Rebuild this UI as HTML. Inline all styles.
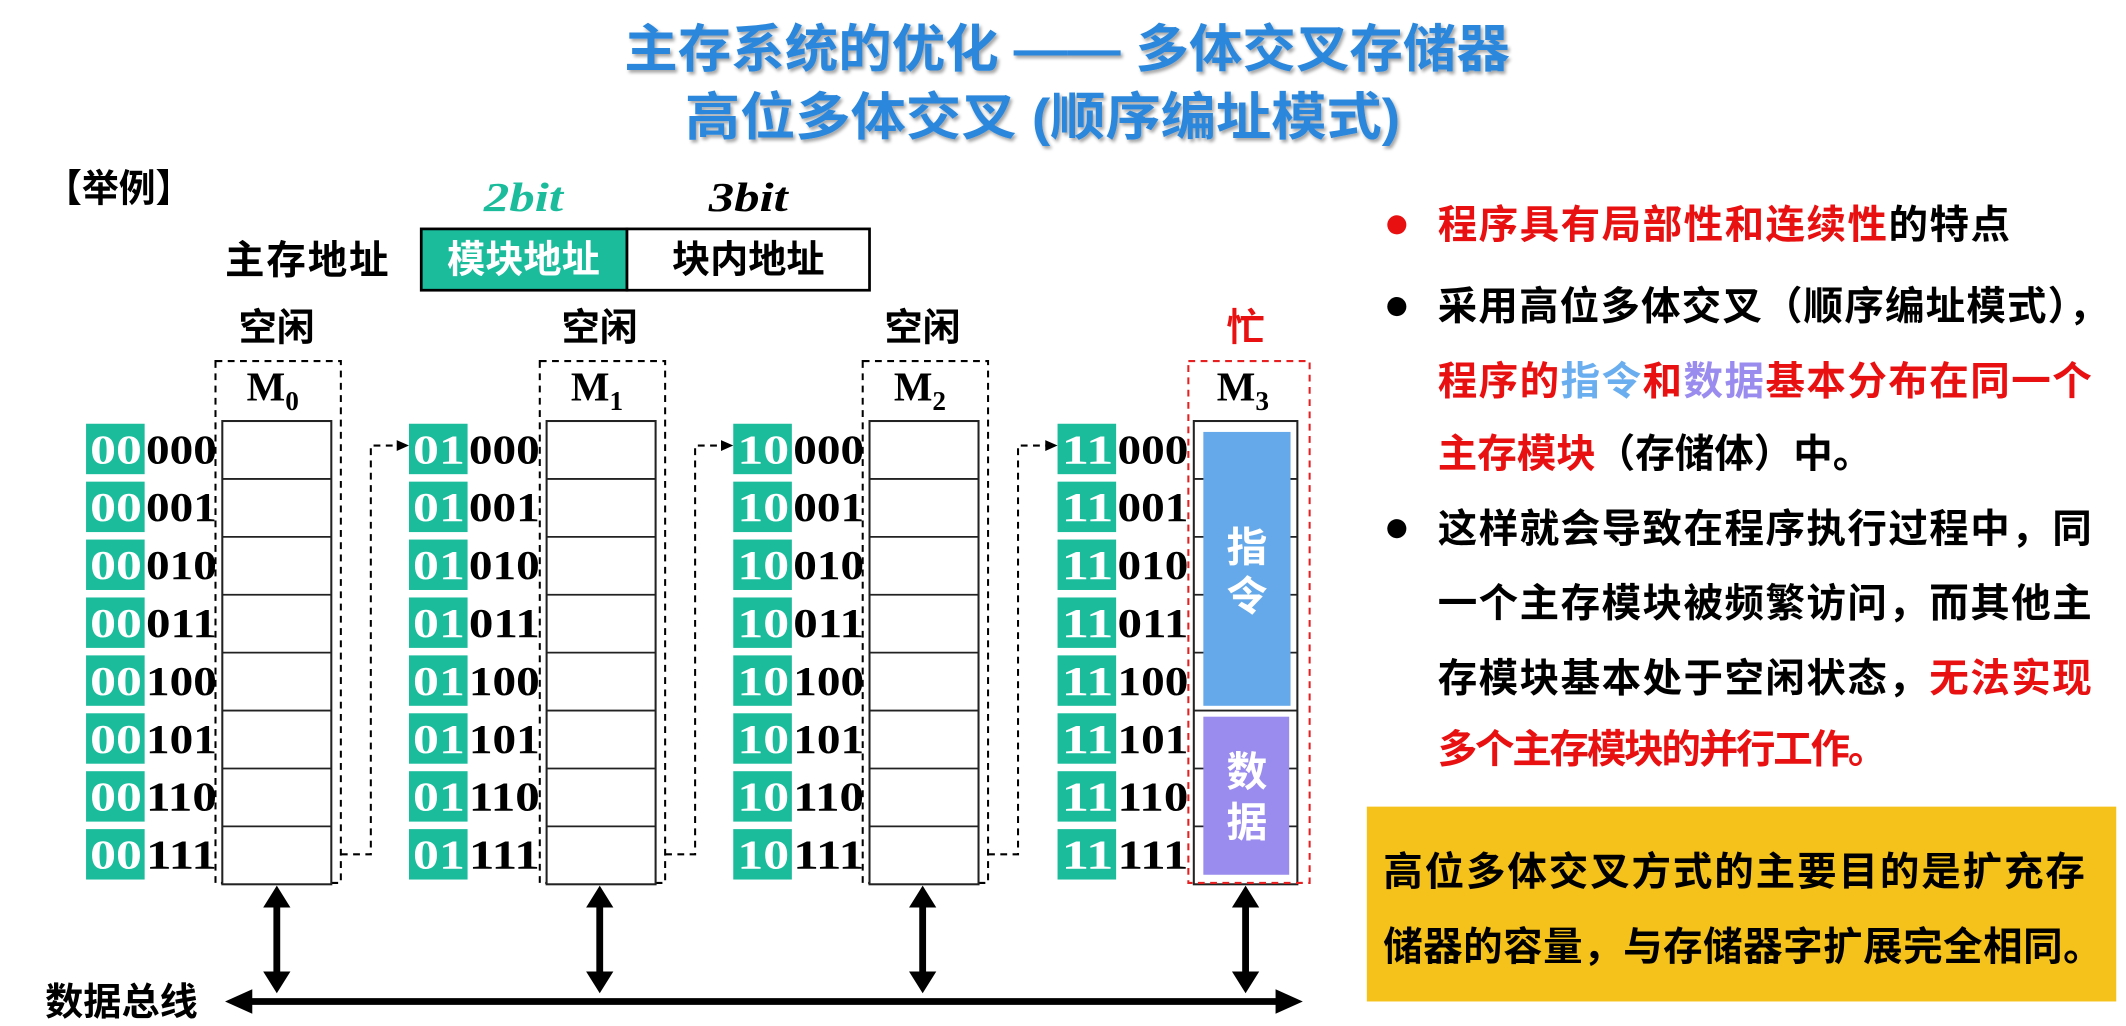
<!DOCTYPE html>
<html><head><meta charset="utf-8">
<style>
html,body{margin:0;padding:0;background:#fff;}
svg{display:block;}
text{font-family:"Liberation Sans","Noto Sans CJK SC",sans-serif;font-weight:bold;}
.serif{font-family:"Liberation Serif","Noto Serif CJK SC",serif;}
</style></head>
<body>
<svg width="2126" height="1026" viewBox="0 0 1560 753" xmlns="http://www.w3.org/2000/svg">
<defs>
<filter id="sh" x="-5%" y="-20%" width="110%" height="140%"><feDropShadow dx="1.5" dy="2" stdDeviation="1.2" flood-color="#000" flood-opacity="0.35"/></filter>
</defs>
<text x="783" y="49" text-anchor="middle" font-size="38" fill="#2b87dc" filter="url(#sh)" textLength="650" lengthAdjust="spacingAndGlyphs">主存系统的优化 —— 多体交叉存储器</text>
<text x="765" y="99" text-anchor="middle" font-size="38" fill="#2b87dc" filter="url(#sh)" textLength="525" lengthAdjust="spacingAndGlyphs">高位多体交叉 (顺序编址模式)</text>

<text x="33" y="148" font-size="28" fill="#000" textLength="108" lengthAdjust="spacingAndGlyphs">【举例】</text>
<text class="serif" x="355" y="155" font-size="30" font-style="italic" fill="#1abc9c" textLength="58" lengthAdjust="spacingAndGlyphs">2bit</text>
<text class="serif" x="520" y="155" font-size="30" font-style="italic" fill="#000" textLength="58" lengthAdjust="spacingAndGlyphs">3bit</text>
<text x="165" y="201" font-size="29" fill="#000" textLength="120">主存地址</text>
<rect x="309" y="168" width="151" height="45" fill="#1abc9c" stroke="#000" stroke-width="2"/>
<rect x="460" y="168" width="178" height="45" fill="#fff" stroke="#000" stroke-width="2"/>
<text x="384" y="200" text-anchor="middle" font-size="28" fill="#fff">模块地址</text>
<text x="549" y="200" text-anchor="middle" font-size="28" fill="#000">块内地址</text>

<text x="203" y="250" text-anchor="middle" font-size="28" fill="#000">空闲</text>
<text x="440" y="250" text-anchor="middle" font-size="28" fill="#000">空闲</text>
<text x="677" y="250" text-anchor="middle" font-size="28" fill="#000">空闲</text>
<text x="914" y="250" text-anchor="middle" font-size="28" fill="#e81010">忙</text>

<rect x="158" y="265" width="92" height="383" fill="none" stroke="#000" stroke-width="1.5" stroke-dasharray="5,4"/>
<rect x="396" y="265" width="92" height="383" fill="none" stroke="#000" stroke-width="1.5" stroke-dasharray="5,4"/>
<rect x="633" y="265" width="92" height="383" fill="none" stroke="#000" stroke-width="1.5" stroke-dasharray="5,4"/>
<text class="serif" x="200" y="294" text-anchor="middle" font-size="30" fill="#000">M<tspan font-size="20" dy="7">0</tspan></text>
<text class="serif" x="438" y="294" text-anchor="middle" font-size="30" fill="#000">M<tspan font-size="20" dy="7">1</tspan></text>
<text class="serif" x="675" y="294" text-anchor="middle" font-size="30" fill="#000">M<tspan font-size="20" dy="7">2</tspan></text>
<text class="serif" x="912" y="294" text-anchor="middle" font-size="30" fill="#000">M<tspan font-size="20" dy="7">3</tspan></text>

<g fill="#fff" stroke="#222" stroke-width="1.5">
<rect x="163" y="309" width="80" height="340"/>
<rect x="401" y="309" width="80" height="340"/>
<rect x="638" y="309" width="80" height="340"/>
<rect x="876" y="309" width="76" height="340"/>
</g>
<g stroke="#222" stroke-width="1.3">
<path d="M163 351.5H243M163 394H243M163 436.5H243M163 479H243M163 521.5H243M163 564H243M163 606.5H243"/>
<path d="M401 351.5H481M401 394H481M401 436.5H481M401 479H481M401 521.5H481M401 564H481M401 606.5H481"/>
<path d="M638 351.5H718M638 394H718M638 436.5H718M638 479H718M638 521.5H718M638 564H718M638 606.5H718"/>
<path d="M876 351.5H952M876 394H952M876 436.5H952M876 479H952M876 521.5H952M876 564H952M876 606.5H952"/>
</g>
<rect x="883" y="317" width="64" height="201" fill="#66a9ea"/>
<rect x="883" y="526" width="63" height="116" fill="#9a8cee"/>
<text x="915" y="412" text-anchor="middle" font-size="30" fill="#fff">指</text>
<text x="915" y="448" text-anchor="middle" font-size="30" fill="#fff">令</text>
<text x="915" y="577" text-anchor="middle" font-size="30" fill="#fff">数</text>
<text x="915" y="614" text-anchor="middle" font-size="30" fill="#fff">据</text>
<rect x="872" y="265" width="89" height="383" fill="none" stroke="#e62020" stroke-width="1.5" stroke-dasharray="5,4"/>

<g fill="#1abc9c">
<rect x="63" y="311" width="43" height="37"/><rect x="63" y="353.5" width="43" height="37"/><rect x="63" y="396" width="43" height="37"/><rect x="63" y="438.5" width="43" height="37"/><rect x="63" y="481" width="43" height="37"/><rect x="63" y="523.5" width="43" height="37"/><rect x="63" y="566" width="43" height="37"/><rect x="63" y="608.5" width="43" height="37"/>
<rect x="300" y="311" width="43" height="37"/><rect x="300" y="353.5" width="43" height="37"/><rect x="300" y="396" width="43" height="37"/><rect x="300" y="438.5" width="43" height="37"/><rect x="300" y="481" width="43" height="37"/><rect x="300" y="523.5" width="43" height="37"/><rect x="300" y="566" width="43" height="37"/><rect x="300" y="608.5" width="43" height="37"/>
<rect x="538" y="311" width="43" height="37"/><rect x="538" y="353.5" width="43" height="37"/><rect x="538" y="396" width="43" height="37"/><rect x="538" y="438.5" width="43" height="37"/><rect x="538" y="481" width="43" height="37"/><rect x="538" y="523.5" width="43" height="37"/><rect x="538" y="566" width="43" height="37"/><rect x="538" y="608.5" width="43" height="37"/>
<rect x="776" y="311" width="43" height="37"/><rect x="776" y="353.5" width="43" height="37"/><rect x="776" y="396" width="43" height="37"/><rect x="776" y="438.5" width="43" height="37"/><rect x="776" y="481" width="43" height="37"/><rect x="776" y="523.5" width="43" height="37"/><rect x="776" y="566" width="43" height="37"/><rect x="776" y="608.5" width="43" height="37"/>
</g>
<g font-size="30">
<g fill="#fff">
<text class="serif" x="66" y="340" textLength="38" lengthAdjust="spacingAndGlyphs">00</text><text class="serif" x="66" y="382.5" textLength="38" lengthAdjust="spacingAndGlyphs">00</text><text class="serif" x="66" y="425" textLength="38" lengthAdjust="spacingAndGlyphs">00</text><text class="serif" x="66" y="467.5" textLength="38" lengthAdjust="spacingAndGlyphs">00</text><text class="serif" x="66" y="510" textLength="38" lengthAdjust="spacingAndGlyphs">00</text><text class="serif" x="66" y="552.5" textLength="38" lengthAdjust="spacingAndGlyphs">00</text><text class="serif" x="66" y="595" textLength="38" lengthAdjust="spacingAndGlyphs">00</text><text class="serif" x="66" y="637.5" textLength="38" lengthAdjust="spacingAndGlyphs">00</text>
<text class="serif" x="303" y="340" textLength="38" lengthAdjust="spacingAndGlyphs">01</text><text class="serif" x="303" y="382.5" textLength="38" lengthAdjust="spacingAndGlyphs">01</text><text class="serif" x="303" y="425" textLength="38" lengthAdjust="spacingAndGlyphs">01</text><text class="serif" x="303" y="467.5" textLength="38" lengthAdjust="spacingAndGlyphs">01</text><text class="serif" x="303" y="510" textLength="38" lengthAdjust="spacingAndGlyphs">01</text><text class="serif" x="303" y="552.5" textLength="38" lengthAdjust="spacingAndGlyphs">01</text><text class="serif" x="303" y="595" textLength="38" lengthAdjust="spacingAndGlyphs">01</text><text class="serif" x="303" y="637.5" textLength="38" lengthAdjust="spacingAndGlyphs">01</text>
<text class="serif" x="541" y="340" textLength="38" lengthAdjust="spacingAndGlyphs">10</text><text class="serif" x="541" y="382.5" textLength="38" lengthAdjust="spacingAndGlyphs">10</text><text class="serif" x="541" y="425" textLength="38" lengthAdjust="spacingAndGlyphs">10</text><text class="serif" x="541" y="467.5" textLength="38" lengthAdjust="spacingAndGlyphs">10</text><text class="serif" x="541" y="510" textLength="38" lengthAdjust="spacingAndGlyphs">10</text><text class="serif" x="541" y="552.5" textLength="38" lengthAdjust="spacingAndGlyphs">10</text><text class="serif" x="541" y="595" textLength="38" lengthAdjust="spacingAndGlyphs">10</text><text class="serif" x="541" y="637.5" textLength="38" lengthAdjust="spacingAndGlyphs">10</text>
<text class="serif" x="779" y="340" textLength="38" lengthAdjust="spacingAndGlyphs">11</text><text class="serif" x="779" y="382.5" textLength="38" lengthAdjust="spacingAndGlyphs">11</text><text class="serif" x="779" y="425" textLength="38" lengthAdjust="spacingAndGlyphs">11</text><text class="serif" x="779" y="467.5" textLength="38" lengthAdjust="spacingAndGlyphs">11</text><text class="serif" x="779" y="510" textLength="38" lengthAdjust="spacingAndGlyphs">11</text><text class="serif" x="779" y="552.5" textLength="38" lengthAdjust="spacingAndGlyphs">11</text><text class="serif" x="779" y="595" textLength="38" lengthAdjust="spacingAndGlyphs">11</text><text class="serif" x="779" y="637.5" textLength="38" lengthAdjust="spacingAndGlyphs">11</text>
</g>
<g fill="#000">
<text class="serif" x="107" y="340" textLength="52" lengthAdjust="spacingAndGlyphs">000</text><text class="serif" x="107" y="382.5" textLength="52" lengthAdjust="spacingAndGlyphs">001</text><text class="serif" x="107" y="425" textLength="52" lengthAdjust="spacingAndGlyphs">010</text><text class="serif" x="107" y="467.5" textLength="52" lengthAdjust="spacingAndGlyphs">011</text><text class="serif" x="107" y="510" textLength="52" lengthAdjust="spacingAndGlyphs">100</text><text class="serif" x="107" y="552.5" textLength="52" lengthAdjust="spacingAndGlyphs">101</text><text class="serif" x="107" y="595" textLength="52" lengthAdjust="spacingAndGlyphs">110</text><text class="serif" x="107" y="637.5" textLength="52" lengthAdjust="spacingAndGlyphs">111</text>
<text class="serif" x="344" y="340" textLength="52" lengthAdjust="spacingAndGlyphs">000</text><text class="serif" x="344" y="382.5" textLength="52" lengthAdjust="spacingAndGlyphs">001</text><text class="serif" x="344" y="425" textLength="52" lengthAdjust="spacingAndGlyphs">010</text><text class="serif" x="344" y="467.5" textLength="52" lengthAdjust="spacingAndGlyphs">011</text><text class="serif" x="344" y="510" textLength="52" lengthAdjust="spacingAndGlyphs">100</text><text class="serif" x="344" y="552.5" textLength="52" lengthAdjust="spacingAndGlyphs">101</text><text class="serif" x="344" y="595" textLength="52" lengthAdjust="spacingAndGlyphs">110</text><text class="serif" x="344" y="637.5" textLength="52" lengthAdjust="spacingAndGlyphs">111</text>
<text class="serif" x="582" y="340" textLength="52" lengthAdjust="spacingAndGlyphs">000</text><text class="serif" x="582" y="382.5" textLength="52" lengthAdjust="spacingAndGlyphs">001</text><text class="serif" x="582" y="425" textLength="52" lengthAdjust="spacingAndGlyphs">010</text><text class="serif" x="582" y="467.5" textLength="52" lengthAdjust="spacingAndGlyphs">011</text><text class="serif" x="582" y="510" textLength="52" lengthAdjust="spacingAndGlyphs">100</text><text class="serif" x="582" y="552.5" textLength="52" lengthAdjust="spacingAndGlyphs">101</text><text class="serif" x="582" y="595" textLength="52" lengthAdjust="spacingAndGlyphs">110</text><text class="serif" x="582" y="637.5" textLength="52" lengthAdjust="spacingAndGlyphs">111</text>
<text class="serif" x="820" y="340" textLength="52" lengthAdjust="spacingAndGlyphs">000</text><text class="serif" x="820" y="382.5" textLength="52" lengthAdjust="spacingAndGlyphs">001</text><text class="serif" x="820" y="425" textLength="52" lengthAdjust="spacingAndGlyphs">010</text><text class="serif" x="820" y="467.5" textLength="52" lengthAdjust="spacingAndGlyphs">011</text><text class="serif" x="820" y="510" textLength="52" lengthAdjust="spacingAndGlyphs">100</text><text class="serif" x="820" y="552.5" textLength="52" lengthAdjust="spacingAndGlyphs">101</text><text class="serif" x="820" y="595" textLength="52" lengthAdjust="spacingAndGlyphs">110</text><text class="serif" x="820" y="637.5" textLength="52" lengthAdjust="spacingAndGlyphs">111</text>
</g>
</g>

<g fill="none" stroke="#000" stroke-width="1.5" stroke-dasharray="5,4">
<path d="M250 627H272V327H294"/>
<path d="M488 627H510V327H532"/>
<path d="M725 627H747V327H770"/>
</g>
<g fill="#000">
<path d="M300 327l-9 -4v8z"/>
<path d="M538 327l-9 -4v8z"/>
<path d="M776 327l-9 -4v8z"/>
</g>

<g stroke="#000" stroke-width="5">
<line x1="180" y1="735" x2="940" y2="735"/>
<line x1="203" y1="664" x2="203" y2="715"/>
<line x1="440" y1="664" x2="440" y2="715"/>
<line x1="677" y1="664" x2="677" y2="715"/>
<line x1="914" y1="664" x2="914" y2="715"/>
</g>
<g fill="#000">
<path d="M165 735l20 -9v18z"/>
<path d="M956 735l-20 -9v18z"/>
<path d="M203 650l-10 16h20z M203 729l-10 -16h20z"/>
<path d="M440 650l-10 16h20z M440 729l-10 -16h20z"/>
<path d="M677 650l-10 16h20z M677 729l-10 -16h20z"/>
<path d="M914 650l-10 16h20z M914 729l-10 -16h20z"/>
</g>
<text x="33" y="745" font-size="28" fill="#000">数据总线</text>

<circle cx="1025" cy="165" r="7" fill="#e81010"/>
<circle cx="1025" cy="225" r="7" fill="#000"/>
<circle cx="1025" cy="388" r="7" fill="#000"/>
<g font-size="29">
<text x="1055" y="175" textLength="420"><tspan fill="#e81010">程序具有局部性和连续性</tspan><tspan fill="#000">的特点</tspan></text>
<text x="1055" y="235" fill="#000" textLength="492">采用高位多体交叉（顺序编址模式），</text>
<text x="1055" y="290" textLength="480"><tspan fill="#e81010">程序的</tspan><tspan fill="#6aaef0">指令</tspan><tspan fill="#e81010">和</tspan><tspan fill="#9a8cee">数据</tspan><tspan fill="#e81010">基本分布在同一个</tspan></text>
<text x="1055" y="343"><tspan fill="#e81010">主存模块</tspan><tspan fill="#000">（存储体）中。</tspan></text>
<text x="1055" y="398" fill="#000" textLength="480">这样就会导致在程序执行过程中，同</text>
<text x="1055" y="453" fill="#000" textLength="480">一个主存模块被频繁访问，而其他主</text>
<text x="1055" y="508" textLength="480"><tspan fill="#000">存模块基本处于空闲状态，</tspan><tspan fill="#e81010">无法实现</tspan></text>
<text x="1055" y="560" fill="#e81010" textLength="330">多个主存模块的并行工作。</text>
</g>
<rect x="1003" y="592" width="550" height="143" fill="#f5c21b"/>
<g font-size="29" fill="#000">
<text x="1015" y="650" textLength="515">高位多体交叉方式的主要目的是扩充存</text>
<text x="1015" y="705" textLength="528">储器的容量，与存储器字扩展完全相同。</text>
</g>
</svg>
</body></html>
